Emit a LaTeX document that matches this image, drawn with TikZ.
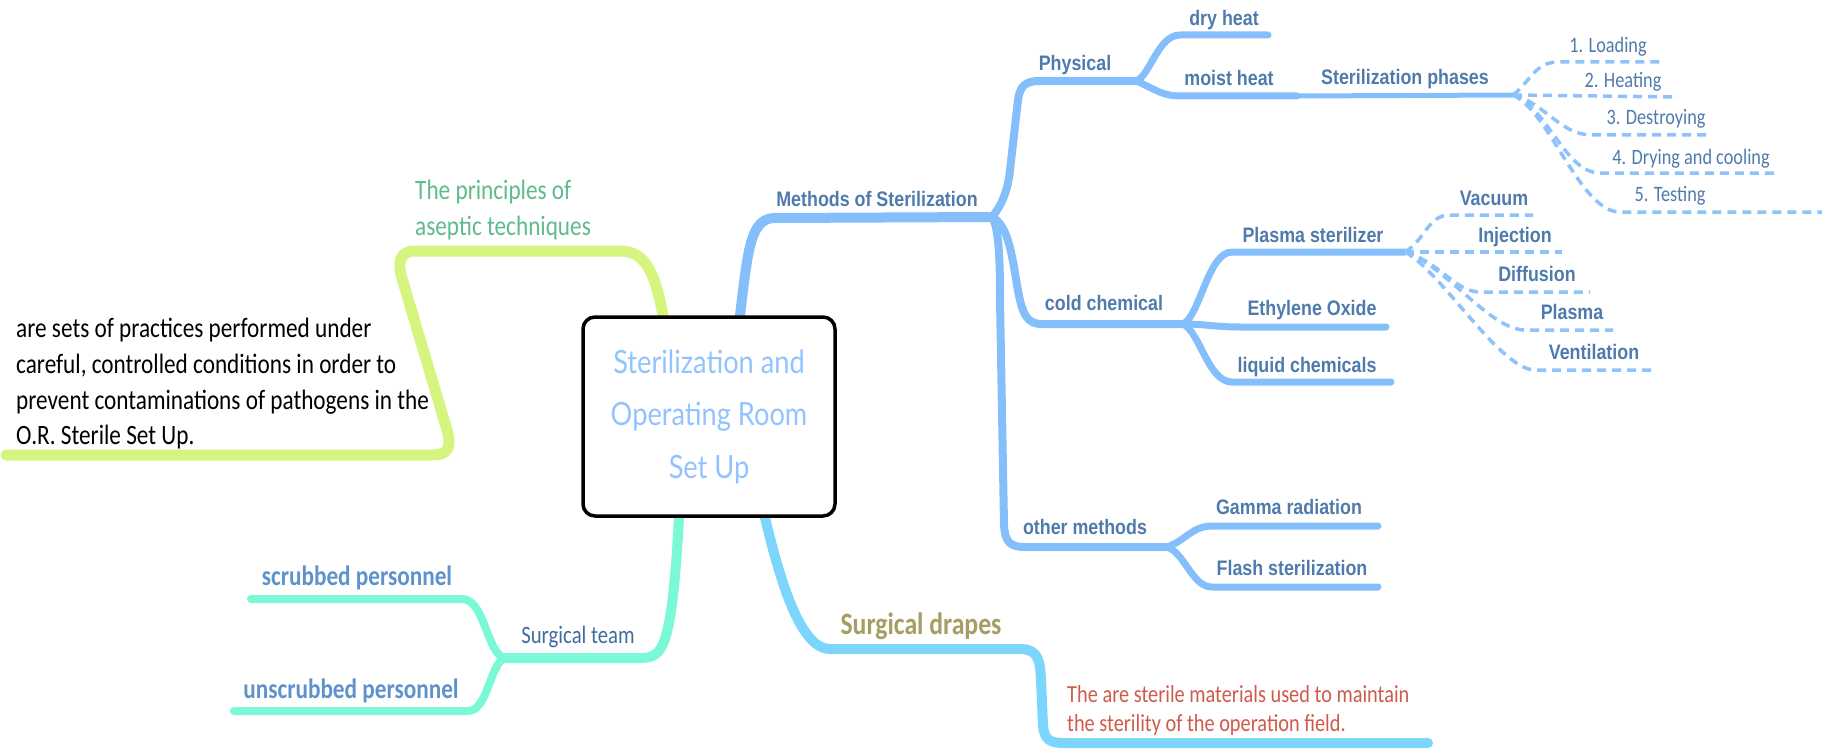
\documentclass[tikz,border=0pt]{standalone}
\usepackage{fontspec}
\usetikzlibrary{backgrounds,calc}
\setmainfont{Liberation Sans}
\newfontfamily\arialf[FakeStretch=0.85]{Liberation Sans}
\newfontfamily\calf[FakeStretch=0.83]{Carlito}
\newfontfamily\titlef[FakeStretch=0.85]{Lato}
\definecolor{mblue}{HTML}{85BFFB}
\definecolor{dblue}{HTML}{8DC3FA}
\definecolor{lbl}{HTML}{4F7BAC}
\definecolor{agreen}{HTML}{D6F57E}
\definecolor{ateal}{HTML}{5FBA8C}
\definecolor{aqua}{HTML}{7BF8D5}
\definecolor{steam}{HTML}{3F6C9F}
\definecolor{pers}{HTML}{5E92CB}
\definecolor{sky}{HTML}{7CD5FD}
\definecolor{olive}{HTML}{A59E62}
\definecolor{redt}{HTML}{CF5A4B}
\definecolor{titleblue}{HTML}{91C4FF}
\begin{document}
\begin{tikzpicture}[x=1pt,y=-1pt,
  rootbox/.style={draw=black, line width=3.5pt, rounded corners=12pt, fill=white,
    minimum width=252pt, minimum height=199pt, inner sep=0pt, align=center,
    text=titleblue, font=\titlef\fontsize{32}{52.5}\selectfont},
  albl/.style={font=\arialf\bfseries\fontsize{21}{25}\selectfont, text=lbl, inner sep=0pt, anchor=mid, yshift=-5pt},
  clbl/.style={font=\calf\fontsize{22}{26}\selectfont, text=lbl, inner sep=0pt, anchor=mid, yshift=-5pt},
  mbr/.style={draw=mblue, line cap=round, line join=round},
  dbr/.style={draw=dblue, line width=3.5pt, dash pattern=on 9pt off 6pt},
  abr/.style={draw=agreen, line width=11pt, line cap=round, line join=round},
  tbr/.style={draw=aqua, line width=10pt, line cap=round, line join=round},
  sbr/.style={draw=sky, line width=10pt, line cap=round, line join=round}]
\useasboundingbox (0,0) rectangle (1822,749);

\node[rootbox] (root) at (709,416.5) {Sterilization and\\Operating Room\\Set Up};

% fork points and line ends
\coordinate (J) at (992,217);
\coordinate (physF) at (1136,81);
\coordinate (dryE) at (1268,35);
\coordinate (moistE) at (1297,96);
\coordinate (P) at (1513,95);
\coordinate (loadE) at (1660,62);
\coordinate (heatE) at (1678,97);
\coordinate (destE) at (1710,135);
\coordinate (dryingE) at (1777,173);
\coordinate (testE) at (1822,212);
\coordinate (C) at (1183,324);
\coordinate (Q) at (1405,252);
\coordinate (ethE) at (1386,327);
\coordinate (liqE) at (1391,382);
\coordinate (vacE) at (1533,215);
\coordinate (injE) at (1562,252);
\coordinate (difE) at (1590,292);
\coordinate (plaE) at (1613,330);
\coordinate (venE) at (1655,370);
\coordinate (O) at (1167,547);
\coordinate (gamE) at (1378,526);
\coordinate (flaE) at (1378,587);
\coordinate (aE) at (6,455);
\coordinate (T) at (505,658);
\coordinate (scrE) at (251,599);
\coordinate (unsE) at (234,711);
\coordinate (drE) at (1428,743);

% labels
\node[albl] (methods) at (877,199) {Methods of Sterilization};
\node[albl] (physical) at (1075,63) {Physical};
\node[albl] (dryheat) at (1224,18) {dry heat};
\node[albl] (moistheat) at (1229,78) {moist heat};
\node[albl] (phases) at (1405,77) {Sterilization phases};
\node[clbl] (ph1) at (1608,45) {1. Loading};
\node[clbl] (ph2) at (1623,80) {2. Heating};
\node[clbl] (ph3) at (1656,117) {3. Destroying};
\node[clbl] (ph4) at (1691,157) {4. Drying and cooling};
\node[clbl] (ph5) at (1670,194) {5. Testing};
\node[albl] (coldchem) at (1104,303) {cold chemical};
\node[albl] (plasmaster) at (1313,235) {Plasma sterilizer};
\node[albl] (ethylene) at (1312,308) {Ethylene Oxide};
\node[albl] (liquid) at (1307,365) {liquid chemicals};
\node[albl] (vacuum) at (1494,198) {Vacuum};
\node[albl] (injection) at (1515,235) {Injection};
\node[albl] (diffusion) at (1537,274) {Diffusion};
\node[albl] (plasmaN) at (1572,312) {Plasma};
\node[albl] (ventilation) at (1594,352) {Ventilation};
\node[albl] (other) at (1085,527) {other methods};
\node[albl] (gamma) at (1289,507) {Gamma radiation};
\node[albl] (flash) at (1292,568) {Flash sterilization};

\node[anchor=north west, align=left, inner sep=0pt, text=ateal,
  font=\calf\fontsize{28}{36}\selectfont] (principles) at (415,180)
  {The principles of\\aseptic techniques};
\node[anchor=north west, align=left, inner sep=0pt, text=black,
  font=\calf\fontsize{28}{35.7}\selectfont] (definition) at (16,318)
  {are sets of practices performed under\\careful, controlled conditions in order to\\prevent contaminations of pathogens in the\\O.R. Sterile Set Up.};
\node[anchor=mid, yshift=-3pt, inner sep=0pt, text=steam, font=\calf\fontsize{25}{30}\selectfont] (team) at (578,638) {Surgical team};
\node[anchor=mid, yshift=-5pt, inner sep=0pt, text=pers, font=\calf\bfseries\fontsize{28}{34}\selectfont] (scrubbed) at (357,578) {scrubbed personnel};
\node[anchor=mid, yshift=-6pt, inner sep=0pt, text=pers, font=\calf\bfseries\fontsize{28}{34}\selectfont] (unscrubbed) at (351,690) {unscrubbed personnel};
\node[anchor=mid, yshift=-7pt, inner sep=0pt, text=olive, font=\calf\bfseries\fontsize{31}{37}\selectfont] (drapes) at (921,625) {Surgical drapes};
\node[anchor=north west, align=left, inner sep=0pt, text=redt,
  font=\calf\fontsize{24.5}{29}\selectfont] (drapesdef) at (1067,685)
  {The are sterile materials used to maintain\\the sterility of the operation field.};

\begin{scope}[on background layer]
% methods of sterilization
\draw[mbr, line width=10pt] ($(root.north)+(31,12)$) -- ($(root.north)+(31,0)$) .. controls (748,250) and (750,218) .. (775,218) -- (J);
\draw[mbr, line width=8pt] (J) .. controls (1002,205) and (1008,190) .. (1010,170) -- (1018,100) .. controls (1020,86) and (1025,81) .. (1040,81) -- (physF);
\draw[mbr, line width=7pt] (physF) .. controls (1150,76) and (1158,35) .. (1180,35) -- (dryE);
\draw[mbr, line width=7pt] (physF) .. controls (1150,86) and (1160,96) .. (1180,96) -- (moistE);
\draw[mbr, line width=5pt] (moistE) -- (P);
\draw[dbr] (P) .. controls (1530,82) and (1535,62) .. (1558,62) -- (loadE);
\draw[dbr] (P) -- (heatE);
\draw[dbr] (P) .. controls (1545,103) and (1560,135) .. (1592,135) -- (destE);
\draw[dbr] (P) .. controls (1548,108) and (1565,173) .. (1600,173) -- (dryingE);
\draw[dbr] (P) .. controls (1550,112) and (1580,212) .. (1620,212) -- (testE);
\draw[mbr, line width=8pt] (J) .. controls (1008,225) and (1012,255) .. (1017,285) .. controls (1022,315) and (1027,324) .. (1042,324) -- (C);
\draw[mbr, line width=7pt] (C) .. controls (1200,316) and (1208,252) .. (1232,252) -- (Q);
\draw[mbr, line width=7pt] (C) .. controls (1205,324) and (1215,327) .. (1240,327) -- (ethE);
\draw[mbr, line width=7pt] (C) .. controls (1200,332) and (1208,382) .. (1232,382) -- (liqE);
\draw[dbr] (Q) .. controls (1425,240) and (1428,215) .. (1450,215) -- (vacE);
\draw[dbr] (Q) -- (injE);
\draw[dbr] (Q) .. controls (1440,262) and (1455,292) .. (1480,292) -- (difE);
\draw[dbr] (Q) .. controls (1445,265) and (1490,330) .. (1525,330) -- (plaE);
\draw[dbr] (Q) .. controls (1440,270) and (1500,370) .. (1535,370) -- (venE);
\draw[mbr, line width=8pt] (J) .. controls (999,228) and (1000,260) .. (1000,300) -- (1004,525) .. controls (1005,542) and (1010,547) .. (1025,547) -- (O);
\draw[mbr, line width=7pt] (O) .. controls (1185,541) and (1192,526) .. (1212,526) -- (gamE);
\draw[mbr, line width=7pt] (O) .. controls (1185,553) and (1192,587) .. (1212,587) -- (flaE);
% aseptic techniques
\draw[abr] ($(root.north)+(-46,12)$) -- ($(root.north)+(-46,0)$) .. controls (655,272) and (645,251) .. (620,251) -- (415,251) .. controls (400,251) and (398,262) .. (401,275) -- (447,430) .. controls (452,448) and (448,455) .. (432,455) -- (aE);
% surgical team
\draw[tbr] ($(root.south)+(-30,-12)$) -- ($(root.south)+(-30,0)$) .. controls (675,590) and (670,640) .. (658,652) .. controls (654,656) and (650,658) .. (640,658) -- (T);
\draw[tbr, line width=8pt] (T) .. controls (487,655) and (485,599) .. (462,599) -- (scrE);
\draw[tbr, line width=8pt] (T) .. controls (490,663) and (488,711) .. (468,711) -- (unsE);
% surgical drapes
\draw[sbr] ($(root.south)+(56,-12)$) -- ($(root.south)+(56,0)$) .. controls (780,580) and (800,649) .. (830,649) -- (1020,649) .. controls (1038,649) and (1040,660) .. (1041,680) -- (1043,725) .. controls (1044,740) and (1050,743) .. (1065,743) -- (drE);
\end{scope}
\end{tikzpicture}
\end{document}
